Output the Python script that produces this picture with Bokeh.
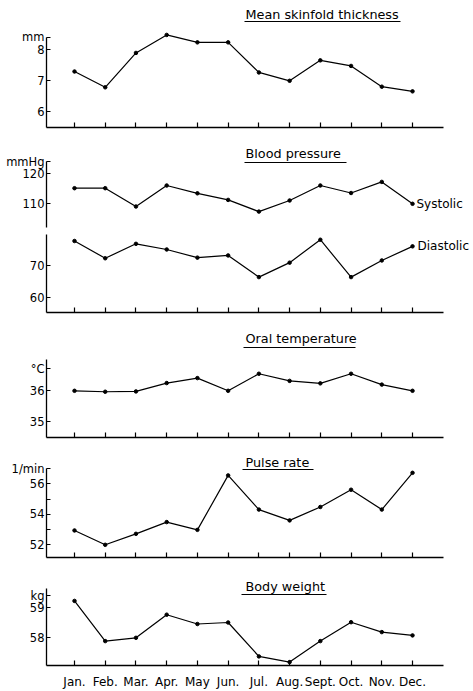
from bokeh.plotting import figure
from bokeh.layouts import column
from bokeh.models import FixedTicker, Label, Range1d
from bokeh.embed import file_html
from bokeh.resources import INLINE

months = ["Jan.", "Feb.", "Mar.", "Apr.", "May", "Jun.", "Jul.", "Aug.", "Sept.", "Oct.", "Nov.", "Dec."]
skinfold = [7.29, 6.78, 7.89, 8.47, 8.23, 8.23, 7.26, 6.99, 7.65, 7.47, 6.80, 6.65]
systolic = [115.2, 115.2, 109.1, 116.1, 113.5, 111.3, 107.4, 111.1, 116.1, 113.6, 117.3, 110.0]
diastolic = [77.9, 72.4, 77.0, 75.2, 72.6, 73.3, 66.4, 71.0, 78.3, 66.4, 71.7, 76.2]
temperature = [35.99, 35.96, 35.97, 36.24, 36.40, 35.99, 36.54, 36.31, 36.23, 36.54, 36.19, 35.99]
pulse = [52.94, 52.0, 52.72, 53.49, 52.98, 56.55, 54.31, 53.6, 54.48, 55.61, 54.31, 56.72]
weight = [59.23, 57.89, 58.0, 58.77, 58.46, 58.51, 57.38, 57.19, 57.89, 58.52, 58.19, 58.08]

skinfold_ticks = [6, 7, 8]
systolic_ticks = [110, 120]
diastolic_ticks = [60, 70]
temperature_ticks = [35, 36]
pulse_ticks = [52, 54, 56]
pulse_minor_ticks = [53, 55]
weight_ticks = [58, 59]

# unit captions, shown at the top of each value axis
units = {"skinfold": (8.4, "mm"), "systolic": (124, "mmHg"), "temperature": (36.7, "°C"),
         "pulse": (57, "1/min"), "weight": (59.4, "kg")}

idx = list(range(len(months)))

FONT = "DejaVu Sans"
PX_PER_MONTH = 30.73
JAN_PX = 74
FRAME_LEFT_PX = 46
FRAME_RIGHT_PX = 473
AXIS_END_PX = 443


def px2x(px):
    return (px - JAN_PX) / PX_PER_MONTH


X0, X1 = px2x(FRAME_LEFT_PX), px2x(FRAME_RIGHT_PX)


def panel(top, bottom, cal, ticks, axis_top, axis_bottom=None, xaxis="minor",
          bottom_border=8, minor=None, unit=None):
    (v1, p1), (v2, p2) = cal
    k = (v1 - v2) / (p2 - p1)

    def y_of(py):
        return v1 + (p1 - py) * k

    p = figure(frame_width=FRAME_RIGHT_PX - FRAME_LEFT_PX, frame_height=bottom - top,
               x_range=Range1d(X0, X1), y_range=Range1d(y_of(bottom), y_of(top)),
               output_backend="svg", toolbar_location=None,
               min_border_left=FRAME_LEFT_PX, min_border_right=0, min_border_top=0,
               min_border_bottom=bottom_border,
               x_axis_location=None if xaxis == "none" else "below")
    p.outline_line_color = None
    p.xgrid.visible = False
    p.ygrid.visible = False
    p.background_fill_color = "white"
    p.border_fill_color = "white"

    ya = p.yaxis[0]
    all_ticks = list(ticks)
    top_val = y_of(axis_top)
    if unit is not None:
        uv, utext = unit
        all_ticks.append(uv)
        ya.major_label_overrides = {uv: utext}
        top_val = max(top_val, uv)
    ya.ticker = FixedTicker(ticks=all_ticks, minor_ticks=minor or [])
    ya.major_tick_in = 4
    ya.major_tick_out = 0
    ya.minor_tick_in = 4 if minor else 0
    ya.minor_tick_out = 0
    ya.axis_line_width = 1.3
    ya.major_tick_line_width = 1.2
    ya.minor_tick_line_width = 1.2
    ya.major_label_standoff = 2
    ya.major_label_text_font = FONT
    ya.major_label_text_font_size = "11.5px"
    ya.major_label_text_color = "black"
    ya.bounds = (y_of(axis_bottom if axis_bottom is not None else bottom), top_val)

    if xaxis != "none":
        xa = p.xaxis[0]
        if xaxis == "labels":
            xa.ticker = FixedTicker(ticks=idx, minor_ticks=[])
            xa.major_label_overrides = {i: m for i, m in zip(idx, months)}
            xa.major_label_text_font = FONT
            xa.major_label_text_font_size = "12px"
            xa.major_label_text_color = "black"
            xa.major_label_standoff = 9
        else:
            xa.ticker = FixedTicker(ticks=[], minor_ticks=idx)
        xa.major_tick_in = 5
        xa.major_tick_out = 0
        xa.minor_tick_in = 5
        xa.minor_tick_out = 0
        xa.axis_line_width = 1.3
        xa.major_tick_line_width = 1.2
        xa.minor_tick_line_width = 1.2
        xa.bounds = (X0 - 0.1, px2x(AXIS_END_PX))
    return p, y_of


def series(p, vals):
    p.line(idx, vals, line_color="black", line_width=1.2)
    p.scatter(idx, vals, size=3.5, color="black")


def title(p, y_of, text, py, ul_py, ul_x0, ul_x1):
    p.add_layout(Label(x=px2x(245), y=y_of(py), text=text, text_font=FONT,
                       text_font_size="12.8px", text_align="left", text_baseline="middle",
                       text_color="black"))
    p.segment(x0=[px2x(ul_x0)], y0=[y_of(ul_py)], x1=[px2x(ul_x1)], y1=[y_of(ul_py)],
              line_color="black", line_width=1.1)


def note(p, y_of, text, px, py):
    p.add_layout(Label(x=px2x(px), y=y_of(py), text=text, text_font=FONT,
                       text_font_size="12px", text_align="left", text_baseline="middle",
                       text_color="black"))


# Panel 1: skinfold
p1, f1 = panel(0, 127, ((8, 49), (6, 111)), skinfold_ticks, 44, unit=units["skinfold"])
series(p1, skinfold)
title(p1, f1, "Mean skinfold thickness", 14, 21, 244, 400)

# Panel 2a: systolic
p2a, f2a = panel(135, 230, ((120, 173.3), (110, 203.3)), systolic_ticks, 170, 227,
                 xaxis="none", bottom_border=0, unit=units["systolic"])
series(p2a, systolic)
title(p2a, f2a, "Blood pressure", 153, 162, 244, 346)
note(p2a, f2a, "Systolic", 416, 203)

# Panel 2b: diastolic
p2b, f2b = panel(230, 312, ((70, 265.3), (60, 296.7)), diastolic_ticks, 234)
series(p2b, diastolic)
note(p2b, f2b, "Diastolic", 417, 245)

# Panel 3: temperature
p3, f3 = panel(320, 437, ((36, 390), (35, 421)), temperature_ticks, 359,
               unit=units["temperature"])
series(p3, temperature)
title(p3, f3, "Oral temperature", 338, 347, 243, 355)

# Panel 4: pulse
p4, f4 = panel(445, 557, ((56, 483.3), (52, 544.3)), pulse_ticks, 473,
               minor=pulse_minor_ticks, unit=units["pulse"])
series(p4, pulse)
title(p4, f4, "Pulse rate", 462, 469, 242, 313)

# Panel 5: weight
p5, f5 = panel(565, 665, ((59, 607.3), (58, 637.3)), weight_ticks, 588,
               xaxis="labels", bottom_border=24, unit=units["weight"])
series(p5, weight)
title(p5, f5, "Body weight", 586, 594, 241, 326)

layout = column(p1, p2a, p2b, p3, p4, p5, spacing=0)
open("out.html", "w").write(file_html(layout, INLINE))
